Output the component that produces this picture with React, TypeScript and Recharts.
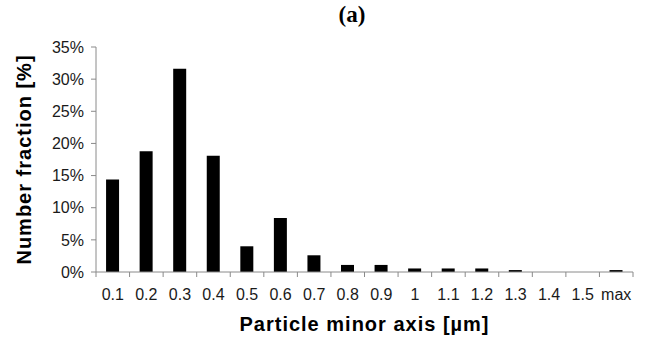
import React from 'react';
import { BarChart, Bar, XAxis, YAxis, Label } from 'recharts';

const categories = ['0.1', '0.2', '0.3', '0.4', '0.5', '0.6', '0.7', '0.8', '0.9', '1', '1.1', '1.2', '1.3', '1.4', '1.5', 'max'];
const fractions = [14.4, 18.8, 31.6, 18.1, 4.0, 8.4, 2.6, 1.1, 1.1, 0.55, 0.55, 0.55, 0.3, 0, 0, 0.3];
const yTicks = [0, 5, 10, 15, 20, 25, 30, 35];

const data = categories.map((c, i) => ({ name: c, value: fractions[i] }));

const FONT = '"Liberation Sans", Arial, Helvetica, sans-serif';
const AXIS_COLOR = '#8a8a8a';
const LAST = categories.length - 1;

const XTick = (props: any) => {
  const { x, y, payload, index } = props;
  const half = payload && typeof payload.offset === 'number' && payload.offset > 0 ? payload.offset : 537 / 16 / 2;
  return (
    <g>
      <line x1={x - half} x2={x - half} y1={y} y2={y + 5} stroke={AXIS_COLOR} strokeWidth={1} />
      {index === LAST ? (
        <line x1={x + half} x2={x + half} y1={y} y2={y + 5} stroke={AXIS_COLOR} strokeWidth={1} />
      ) : null}
      <text x={x} y={y + 28} textAnchor="middle" fontFamily={FONT} fontSize={16} fill="#1a1a1a">
        {payload.value}
      </text>
    </g>
  );
};

export default function App() {
  return (
    <div style={{ position: 'absolute', left: 0, top: 0, width: 652, height: 341, background: '#fff' }}>
      <div
        style={{
          position: 'absolute',
          left: 352,
          top: 1,
          transform: 'translateX(-50%)',
          fontFamily: '"Liberation Serif", "Times New Roman", serif',
          fontWeight: 700,
          fontSize: 23,
          lineHeight: '28px',
          color: '#000',
        }}
      >
        (a)
      </div>
      <BarChart
        width={652}
        height={341}
        data={data}
        margin={{ top: 47, right: 19, bottom: 0, left: 0 }}
        barCategoryGap="30%"
      >
        <XAxis
          dataKey="name"
          type="category"
          interval={0}
          height={69}
          tickSize={0}
          tickMargin={0}
          tickLine={false}
          tick={<XTick />}
          axisLine={{ stroke: AXIS_COLOR, strokeWidth: 1 }}
        >
          <Label
            content={(p: any) => {
              const vb = p.viewBox;
              return (
                <text
                  x={vb.x + vb.width / 2}
                  y={331}
                  textAnchor="middle"
                  fontFamily={FONT}
                  fontWeight="bold"
                  fontSize={20}
                  letterSpacing={1}
                  fill="#000"
                >
                  Particle minor axis [µm]
                </text>
              );
            }}
          />
        </XAxis>
        <YAxis
          type="number"
          domain={[0, 35]}
          ticks={yTicks}
          width={96}
          tickSize={5}
          tickMargin={7}
          tickFormatter={(v: number) => `${v}%`}
          tick={{ fontFamily: FONT, fontSize: 16, fill: '#1a1a1a' }}
          tickLine={{ stroke: AXIS_COLOR }}
          axisLine={{ stroke: AXIS_COLOR, strokeWidth: 1 }}
        >
          <Label
            content={(p: any) => {
              const vb = p.viewBox;
              const cy = vb.y + vb.height / 2;
              return (
                <text
                  x={31}
                  y={cy}
                  transform={`rotate(-90 31 ${cy})`}
                  textAnchor="middle"
                  fontFamily={FONT}
                  fontWeight="bold"
                  fontSize={20}
                  letterSpacing={1}
                  fill="#000"
                >
                  Number fraction [%]
                </text>
              );
            }}
          />
        </YAxis>
        <Bar dataKey="value" fill="#000" isAnimationActive={false} />
      </BarChart>
    </div>
  );
}
